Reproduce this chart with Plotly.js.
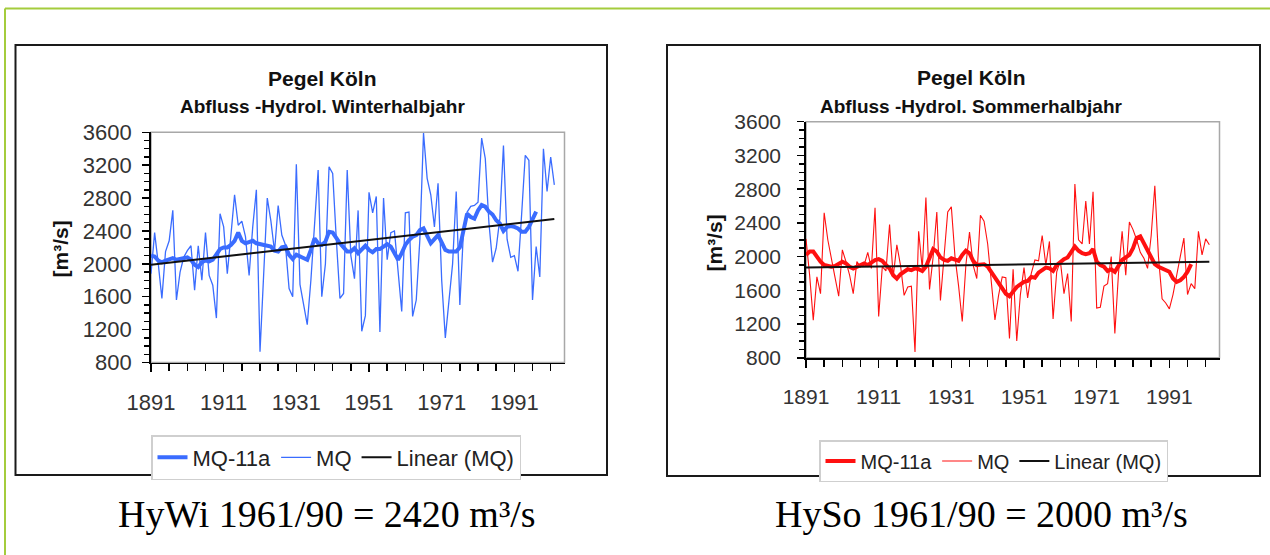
<!DOCTYPE html>
<html><head><meta charset="utf-8">
<script src="https://cdn.plot.ly/plotly-3.0.1.min.js"></script>
<style>html,body{margin:0;padding:0;background:#fff;overflow:hidden;} #chart{width:1270px;height:555px;}</style>
</head><body><div id="chart"></div>
<script>
// ---------- data ----------
const startYear = 1891;

// Winter half-year (HyWi), Pegel Köln, m³/s
const winterMQ = [
  1880,2380,2000,1580,2150,2280,2650,1560,1900,2080, // 1891-1900
  2160,2220,1680,2220,1800,2380,1860,1740,1340,2610, // 1901-1910
  2450,1880,2350,2840,2470,2520,2330,1860,2450,2900, // 1911-1920
  930,1900,2800,2520,2150,2710,2350,2230,1700,1600,  // 1921-1930
  3210,1750,1500,1260,1800,2500,3140,1600,2000,3180, // 1931-1940
  3100,2300,1580,1640,3140,2100,1820,2650,1180,1370, // 1941-1950
  2870,2620,2820,1170,2800,2050,2380,2400,1950,1420, // 1951-1960
  2620,2630,1360,1560,2300,3590,3040,2840,2450,2980, // 1961-1970
  1800,1100,1550,2000,2880,1500,2400,2630,2700,2710, // 1971-1980
  2750,3530,3280,2500,2020,2190,2550,3440,2300,2080, // 1981-1990
  2100,1910,2600,3320,3260,1560,2210,1840,3400,2880, // 1991-2000
  3300,2960                                          // 2001-2002
];
const winterMQ11a = [
  2100,2090,2040,2020,2040,2060,2070,2050,2060,2070, // 1891-1900
  2080,2050,1990,1960,2020,2040,2030,2050,2120,2180, // 1901-1910
  2200,2200,2230,2280,2380,2280,2250,2270,2280,2250, // 1911-1920
  2240,2220,2220,2210,2160,2150,2200,2210,2110,2060, // 1921-1930
  2110,2090,2060,2050,2170,2310,2250,2230,2270,2390, // 1931-1940
  2380,2310,2250,2200,2150,2150,2190,2130,2170,2220, // 1941-1950
  2170,2140,2180,2180,2210,2240,2210,2140,2050,2130, // 1951-1960
  2230,2290,2330,2350,2410,2430,2330,2250,2300,2350, // 1961-1970
  2260,2170,2150,2150,2150,2200,2430,2610,2570,2550, // 1971-1980
  2650,2715,2695,2635,2600,2530,2490,2400,2450,2460, // 1981-1990
  2450,2430,2390,2390,2450,2550,2635                 // 1991-1997
];
const winterTrendYears = [1891, 2002];
const winterTrend = [1990, 2545];

// Summer half-year (HySo), Pegel Köln, m³/s
const summerMQ = [
  2210,1780,1245,1760,1560,2520,2200,1950,1750,1530, // 1891-1900
  2080,1940,1780,1560,1940,1880,1900,2050,1860,2580, // 1901-1910
  1290,1880,1830,2380,1760,2140,1900,1540,1640,1650, // 1911-1920
  870,2300,1860,2700,1610,2000,2530,1480,2000,2530,  // 1921-1930
  2590,2000,1650,1230,1900,2290,1900,1740,2490,2420, // 1931-1940
  2150,1700,1250,1540,1760,1750,1030,1850,1000,1550, // 1941-1950
  1870,1510,1800,1960,1950,2250,1900,2180,1260,1820, // 1951-1960
  1950,1560,1800,1230,2860,2200,2150,2660,2150,2770, // 1961-1970
  1390,1400,1650,1680,2000,1090,1800,2300,1780,2410, // 1971-1980
  2320,2200,2050,1980,1860,2250,2840,2000,1500,1450, // 1981-1990
  1380,1550,1800,2000,2220,1550,1680,1620,2300,2020, // 1991-2000
  2210,2140                                          // 2001-2002
];
const summerMQ11a = [
  2020,2060,2060,1990,1940,1900,1890,1880,1890,1910, // 1891-1900
  1940,1920,1880,1860,1880,1900,1920,1900,1930,1960, // 1901-1910
  1970,1950,1900,1860,1780,1740,1790,1820,1850,1840, // 1911-1920
  1860,1850,1830,1880,2000,2090,2060,1990,1960,1950, // 1921-1930
  1980,1970,1950,2020,2070,2040,1950,1900,1910,1910, // 1931-1940
  1880,1820,1740,1700,1630,1560,1530,1580,1640,1670, // 1941-1950
  1700,1710,1760,1750,1810,1840,1870,1860,1830,1900, // 1951-1960
  1940,1970,1990,2050,2120,2070,2040,2030,2040,2090, // 1961-1970
  1940,1900,1880,1830,1850,1820,1880,1960,1990,2020, // 1971-1980
  2100,2220,2240,2160,2060,1980,1910,1880,1860,1840, // 1981-1990
  1820,1740,1700,1720,1760,1820,1910                 // 1991-1997
];
const summerTrendYears = [1891, 2002];
const summerTrend = [1870, 1940];

const seriesNames = ['MQ-11a', 'MQ', 'Linear (MQ)'];
const chartTitle = 'Pegel Köln';
const winterSubtitle = 'Abfluss -Hydrol. Winterhalbjahr';
const summerSubtitle = 'Abfluss -Hydrol. Sommerhalbjahr';
const yAxisTitle = '[m³/s]';
const winterCaption = 'HyWi 1961/90 = 2420 m³/s';
const summerCaption = 'HySo 1961/90 = 2000 m³/s';
const xFirstTick = 1891, xLabelStep = 20, xMinorStep = 5;
const yMin = 800, yMax = 3600, yStep = 400, yMinorStep = 100;
const xMax = 2004.8;

// ---------- helpers ----------
const W = 1270, H = 555;
const px = v => v / W;
const py = v => 1 - v / H;
const yearsOf = arr => arr.map((_, i) => startYear + i);
const SANS = 'Liberation Sans, Arial, sans-serif';
const SERIF = 'Liberation Serif, Times New Roman, serif';

const BLUE = '#3a6cff';
const RED = '#ff1010';

const traces = [
  {x: yearsOf(winterMQ), y: winterMQ, name: seriesNames[1], type: 'scatter', mode: 'lines',
   line: {color: BLUE, width: 1.3}, xaxis: 'x', yaxis: 'y', legend: 'legend', legendrank: 2},
  {x: yearsOf(winterMQ11a), y: winterMQ11a, name: seriesNames[0], type: 'scatter', mode: 'lines',
   line: {color: BLUE, width: 4}, xaxis: 'x', yaxis: 'y', legend: 'legend', legendrank: 1},
  {x: winterTrendYears, y: winterTrend, name: seriesNames[2], type: 'scatter', mode: 'lines',
   line: {color: '#111', width: 2}, xaxis: 'x', yaxis: 'y', legend: 'legend', legendrank: 3},

  {x: yearsOf(summerMQ), y: summerMQ, name: seriesNames[1], type: 'scatter', mode: 'lines',
   line: {color: RED, width: 1.1}, xaxis: 'x2', yaxis: 'y2', legend: 'legend2', legendrank: 2},
  {x: yearsOf(summerMQ11a), y: summerMQ11a, name: seriesNames[0], type: 'scatter', mode: 'lines',
   line: {color: RED, width: 4}, xaxis: 'x2', yaxis: 'y2', legend: 'legend2', legendrank: 1},
  {x: summerTrendYears, y: summerTrend, name: seriesNames[2], type: 'scatter', mode: 'lines',
   line: {color: '#111', width: 2}, xaxis: 'x2', yaxis: 'y2', legend: 'legend2', legendrank: 3}
];

function xAxis(domain, anchor, fontSize) {
  return {
    domain: domain, anchor: anchor, range: [xFirstTick, xMax], type: 'linear',
    tickmode: 'linear', tick0: xFirstTick, dtick: xLabelStep, tickformat: 'd',
    ticks: 'outside', ticklen: 8, tickwidth: 1.5, tickcolor: '#000',
    minor: {tickmode: 'linear', tick0: xFirstTick, dtick: xMinorStep, ticks: 'outside', ticklen: 7, tickwidth: 1.5, tickcolor: '#000', showgrid: false},
    showline: true, linecolor: '#000', linewidth: 1.8, showgrid: false, zeroline: false,
    ticklabelstandoff: 11,
    tickfont: {family: SANS, size: fontSize, color: '#333'}
  };
}
function yAxis(domain, anchor, fontSize, standoff) {
  return {
    domain: domain, anchor: anchor, range: [yMin, yMax], type: 'linear',
    tickmode: 'linear', tick0: yMin, dtick: yStep, tickformat: 'd',
    ticks: 'outside', ticklen: 7, tickwidth: 1.5, tickcolor: '#000',
    minor: {tickmode: 'linear', tick0: yMin, dtick: yMinorStep, ticks: 'outside', ticklen: 5, tickwidth: 1.5, tickcolor: '#000', showgrid: false},
    showline: true, linecolor: '#000', linewidth: 1.8, showgrid: false, zeroline: false,
    ticklabelstandoff: standoff,
    tickfont: {family: SANS, size: fontSize, color: '#333'}
  };
}

const GREEN = '#a4cc3c';
const shapes = [
  // outer green frame (top and left)
  {type: 'line', xref: 'paper', yref: 'paper', x0: px(5), x1: 1, y0: py(8.5), y1: py(8.5), line: {color: GREEN, width: 2}},
  {type: 'line', xref: 'paper', yref: 'paper', x0: px(5), x1: px(5), y0: py(8.5), y1: 0, line: {color: GREEN, width: 2}},
  // panel borders
  {type: 'rect', xref: 'paper', yref: 'paper', x0: px(15.5), x1: px(607), y0: py(475), y1: py(45), line: {color: '#1a1a1a', width: 2}},
  {type: 'rect', xref: 'paper', yref: 'paper', x0: px(667), x1: px(1260), y0: py(476), y1: py(45), line: {color: '#1a1a1a', width: 2}},
  // plot-area frames (grey)
  {type: 'rect', xref: 'x domain', yref: 'y domain', x0: 0, x1: 1, y0: 0, y1: 1, line: {color: '#a8a8a8', width: 1.5}, layer: 'below'},
  {type: 'rect', xref: 'x2 domain', yref: 'y2 domain', x0: 0, x1: 1, y0: 0, y1: 1, line: {color: '#a8a8a8', width: 1.5}, layer: 'below'}
];

function ann(text, x, y, font, extra) {
  return Object.assign({text: text, xref: 'paper', yref: 'paper', x: px(x), y: py(y),
    xanchor: 'center', yanchor: 'middle', showarrow: false, font: font}, extra || {});
}
const titleFont = {family: SANS, size: 21, color: '#111', weight: 700};
const subFont = {family: SANS, size: 19, color: '#111', weight: 700};
const axFont = {family: SANS, size: 21, color: '#111', weight: 700};
const capFont = {family: SERIF, size: 38, color: '#000'};

const annotations = [
  ann(chartTitle, 322.5, 78, titleFont),
  ann(winterSubtitle, 322.5, 106, subFont),
  ann(chartTitle, 971, 77, titleFont),
  ann(summerSubtitle, 971.4, 106, subFont),
  ann(yAxisTitle, 60, 249.5, axFont, {textangle: -90}),
  ann(yAxisTitle, 714, 243.5, axFont, {textangle: -90}),
  ann(winterCaption, 327, 514, capFont),
  ann(summerCaption, 981, 514, capFont)
];

const layout = {
  width: W, height: H,
  margin: {l: 0, r: 0, t: 0, b: 0, pad: 0},
  paper_bgcolor: '#fff', plot_bgcolor: '#fff',
  showlegend: true,
  xaxis: xAxis([px(151), px(564.5)], 'y', 22),
  yaxis: yAxis([py(362.5), py(132.3)], 'x', 22, 6),
  xaxis2: xAxis([px(806), px(1219.5)], 'y2', 21),
  yaxis2: yAxis([py(357.8), py(121.7)], 'x2', 21, 12),
  legend: {x: px(151), y: py(435), xanchor: 'left', yanchor: 'top', orientation: 'h',
    bordercolor: '#cfcfcf', borderwidth: 1.5, bgcolor: '#fff',
    font: {family: SANS, size: 22, color: '#222'}, traceorder: 'normal'},
  legend2: {x: px(819), y: py(440), xanchor: 'left', yanchor: 'top', orientation: 'h',
    bordercolor: '#cfcfcf', borderwidth: 1.5, bgcolor: '#fff',
    font: {family: SANS, size: 20, color: '#222'}, traceorder: 'normal'},
  shapes: shapes,
  annotations: annotations
};

Plotly.newPlot('chart', traces, layout, {staticPlot: true, displayModeBar: false});
</script>
</body></html>
